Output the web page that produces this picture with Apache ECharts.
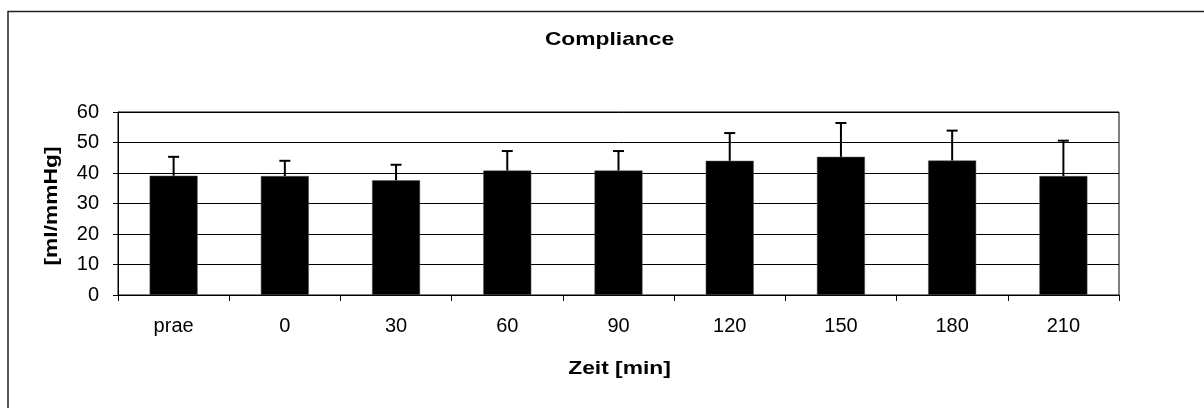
<!DOCTYPE html>
<html>
<head>
<meta charset="utf-8">
<title>Compliance</title>
<script src="https://cdn.jsdelivr.net/npm/echarts@6/dist/echarts.min.js"></script>
<style>
  html, body { margin: 0; padding: 0; background: #fff; }
  #chart { width: 1204px; height: 408px; }
</style>
</head>
<body>
<div id="chart"></div>
<script>
// Time points (minutes) and compliance values in ml/mmHg
const categories = ['prae', '0', '30', '60', '90', '120', '150', '180', '210'];
const means = [39.1, 39.0, 37.6, 40.8, 40.8, 44.0, 45.3, 44.1, 39.0];
const sds = [6.2, 5.0, 5.1, 6.4, 6.4, 9.1, 11.1, 9.8, 11.6];
const yTicks = { min: 0, max: 60, interval: 10 };

const FONT = "'Liberation Sans', Arial, sans-serif";

const chart = echarts.init(document.getElementById('chart'), null, { renderer: 'canvas' });

// [category index, mean, mean + SD] for the upward error whiskers
const errorData = categories.map((c, i) => [i, means[i], means[i] + sds[i]]);

chart.setOption({
  animation: false,
  backgroundColor: '#fff',
  textStyle: { fontFamily: FONT },
  grid: {
    left: 118, right: 85, top: 112, bottom: 113,
    show: true, borderColor: '#000', borderWidth: 1, backgroundColor: 'transparent'
  },
  graphic: [
    {
      type: 'rect', silent: true, z: -1,
      shape: { x: 8, y: 11.5, width: 1300, height: 500 },
      style: { fill: 'none', stroke: '#222', lineWidth: 1.5 }
    },
    {
      type: 'text', x: 609.5, y: 40, scaleX: 1.2,
      style: { text: 'Compliance', fontFamily: FONT, fontWeight: 'bold', fontSize: 19,
               fill: '#000', textAlign: 'center', textVerticalAlign: 'middle' }
    },
    {
      type: 'text', x: 619.5, y: 369, scaleX: 1.2,
      style: { text: 'Zeit [min]', fontFamily: FONT, fontWeight: 'bold', fontSize: 19,
               fill: '#000', textAlign: 'center', textVerticalAlign: 'middle' }
    },
    {
      type: 'text', x: 52, y: 206, rotation: Math.PI / 2, scaleX: 1.2,
      style: { text: '[ml/mmHg]', fontFamily: FONT, fontWeight: 'bold', fontSize: 19,
               fill: '#000', textAlign: 'center', textVerticalAlign: 'middle' }
    }
  ],
  xAxis: {
    type: 'category',
    data: categories,
    boundaryGap: true,
    axisLine: { lineStyle: { color: '#000', width: 1 } },
    axisTick: { show: true, length: 6, lineStyle: { color: '#000' } },
    axisLabel: { color: '#000', fontSize: 20, fontFamily: FONT, margin: 21 },
    splitLine: { show: false }
  },
  yAxis: {
    type: 'value',
    min: yTicks.min, max: yTicks.max, interval: yTicks.interval,
    axisLine: { show: true, lineStyle: { color: '#000', width: 1 } },
    axisTick: { show: true, length: 5, lineStyle: { color: '#000' } },
    axisLabel: { color: '#000', fontSize: 20, fontFamily: FONT, margin: 19 },
    splitLine: { show: true, lineStyle: { color: '#000', width: 1 } }
  },
  series: [
    {
      type: 'bar',
      data: means,
      barWidth: 48,
      itemStyle: { color: '#000', borderColor: '#555', borderWidth: 0.5 }
    },
    {
      type: 'custom',
      data: errorData,
      z: 5,
      renderItem: function (params, api) {
        const i = api.value(0);
        const base = api.coord([i, api.value(1)]);
        const top = api.coord([i, api.value(2)]);
        const hw = 5.5;
        return {
          type: 'group',
          children: [
            { type: 'line', shape: { x1: base[0], y1: base[1], x2: top[0], y2: top[1] },
              style: { stroke: '#000', lineWidth: 2 } },
            { type: 'line', shape: { x1: top[0] - hw, y1: top[1], x2: top[0] + hw, y2: top[1] },
              style: { stroke: '#000', lineWidth: 2 } }
          ]
        };
      }
    }
  ]
});
</script>
</body>
</html>
